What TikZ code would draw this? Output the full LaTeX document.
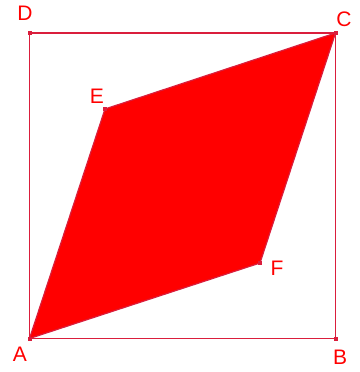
\documentclass[tikz,border=0pt]{standalone}
\usepackage{fontspec}
\setmainfont{Liberation Sans}
\begin{document}
\begin{tikzpicture}[x=1pt,y=-1pt,
  edge/.style={draw=crim,line width=1.6pt},
  lbl/.style={text=red,font=\fontsize{21}{21}\selectfont,inner sep=0pt},
  dot/.style={fill=crim,minimum size=4pt,inner sep=0pt,shape=rectangle}]
\definecolor{crim}{RGB}{218,30,60}
\useasboundingbox (0,0) rectangle (359,372);
\coordinate (A) at (29.5,338.5);
\coordinate (B) at (335.5,338.5);
\coordinate (C) at (335.5,33);
\coordinate (D) at (29.5,33);
\coordinate (E) at (105,109);
\coordinate (F) at (260,263);
\fill[red] (A) -- (F) -- (C) -- (E) -- cycle;
\draw[crim,line width=1.2pt] (A) -- (F) -- (C) -- (E) -- cycle;
\draw[edge] (A) -- (B) -- (C) -- (D) -- cycle;
\foreach \p in {A,B,C,D,E,F} \node[dot] at (\p) {};
\node[lbl] (lA) at (20,354) {A};
\node[lbl] (lB) at (340,357) {B};
\node[lbl] (lC) at (344,19) {C};
\node[lbl] (lD) at (25,13) {D};
\node[lbl] (lE) at (97,96) {E};
\node[lbl] (lF) at (277,268) {F};
\end{tikzpicture}
\end{document}
